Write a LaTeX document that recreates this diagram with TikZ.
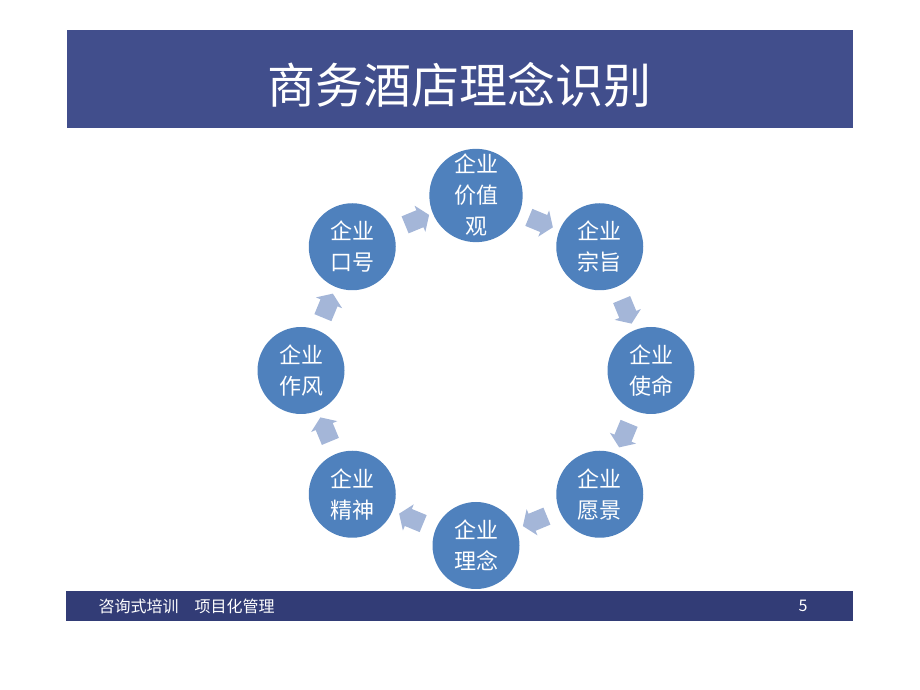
\documentclass[tikz,border=0pt]{standalone}
\usepackage{fontspec}
\newfontfamily\cjk{Noto Sans CJK SC}
\usetikzlibrary{positioning}
\usetikzlibrary{calc}
\usetikzlibrary{shapes.arrows}
\definecolor{barblue}{RGB}{65,78,140}
\definecolor{footblue}{RGB}{50,60,118}
\definecolor{ballblue}{RGB}{79,129,189}
\definecolor{flowblue}{RGB}{164,182,216}
\tikzstyle{goal}=[circle,fill=ballblue,minimum size=87pt,inner sep=0pt,text=white,align=center,font=\cjk\fontsize{22}{31}\selectfont]
\tikzstyle{flow}=[single arrow,fill=flowblue,minimum height=26pt,inner sep=9pt,single arrow head extend=5pt,single arrow tip angle=110]

\begin{document}
\begin{tikzpicture}[x=1pt,y=1pt]
			\useasboundingbox (0,0) rectangle (920,690);
			
			\fill[barblue] (67,562) rectangle (853,660);
			\node[text=white,font=\cjk\fontsize{48}{48}\selectfont] (title) at (459,605) {商务酒店理念识别};
			
			\fill[footblue] (66,69) rectangle (853,99);
			\node[anchor=west,text=white,font=\cjk\fontsize{16}{16}\selectfont] (foot) at (95,84) {咨询式培训\hspace{1em}项目化管理};
			\node[text=white,font=\cjk\fontsize{16}{16}\selectfont] (page) at (803,84) {5};
			
			\begin{scope}[shift={(476,319.5)}]
			\node [goal] (goal1) at (90:175pt) {企业\\价值\\观};
			\node [goal] (goal2) at (45:175pt) {企业\\宗旨};
			\node [goal] (goal3) at (0:175pt) {企业\\使命};
			\node [goal] (goal4) at (-45:175pt) {企业\\愿景};
			\node [goal] (goal5) at (-90:175pt) {企业\\理念};
			\node [goal] (goal6) at (-135:175pt) {企业\\精神};
			\node [goal] (goal7) at (180:175pt) {企业\\作风};
			\node [goal] (goal8) at (135:175pt) {企业\\口号};
			
			\node [flow, rotate=-22.5] (flow1) at ($(goal1)!0.5!(goal2)$) {};
			\node [flow, rotate=-67.5] (flow2) at ($(goal2)!0.5!(goal3)$) {};
			\node [flow, rotate=-112.5] (flow3) at ($(goal3)!0.5!(goal4)$) {};
			\node [flow, rotate=-157.5] (flow4) at ($(goal4)!0.5!(goal5)$) {};
			\node [flow, rotate=157.5] (flow5) at ($(goal5)!0.5!(goal6)$) {};
			\node [flow, rotate=112.5] (flow6) at ($(goal6)!0.5!(goal7)$) {};
			\node [flow, rotate=67.5] (flow7) at ($(goal7)!0.5!(goal8)$) {};
			\node [flow, rotate=22.5] (flow8) at ($(goal8)!0.5!(goal1)$) {};
			\end{scope}
\end{tikzpicture}
\end{document}
